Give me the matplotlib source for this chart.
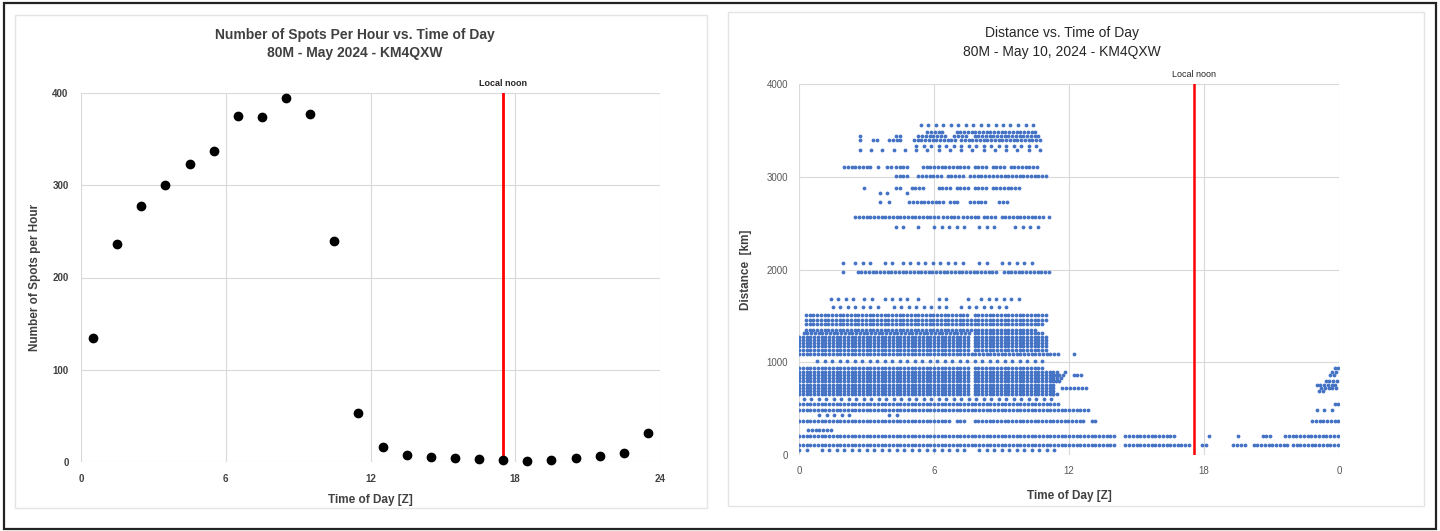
import numpy as np
import matplotlib.pyplot as plt
from matplotlib.patches import Rectangle

plt.rcParams['font.family'] = ['Liberation Sans', 'DejaVu Sans']

# spots per hour, May 2024 (hour centres)
hours = [0.5, 1.5, 2.5, 3.5, 4.5, 5.5, 6.5, 7.5, 8.5, 9.5, 10.5, 11.5,
         12.5, 13.5, 14.5, 15.5, 16.5, 17.5, 18.5, 19.5, 20.5, 21.5, 22.5, 23.5]
spots = [134, 236, 277, 300, 323, 337, 375, 374, 395, 377, 240, 53,
         16, 8, 5, 4, 3, 2, 1, 2, 4, 7, 10, 31]

noon_left = 17.5
noon_right = 17.55

# distance bands for May 10: km, list of (first, last) spot hours, spot interval in minutes
dense_main = [(0, 7.65), (7.8, 11.3)]
dense_high = [(0, 7.65), (7.8, 11.0)]
band_km = [50, 110, 200, 270, 370, 430, 480, 550, 600,
           655, 690, 725, 760, 795, 830, 865, 900, 935,
           1010, 1090, 1135, 1170, 1205, 1240, 1275, 1310,
           1350, 1410, 1460, 1510, 1600, 1680,
           1970, 2075, 2455, 2562, 2724, 2820, 2880, 3010, 3110,
           3290, 3330, 3400, 3440, 3480, 3560]
band_spans = [
    [(0, 0.4), (1.0, 7.5), (8.0, 11.4)],
    [(0, 14.1), (14.5, 17.4), (17.9, 18.1), (19.3, 19.9), (20.2, 21.8), (21.95, 24)],
    [(0, 14.1), (14.5, 16.7), (18.2, 18.2), (19.5, 19.5), (20.6, 21.0), (21.6, 24)],
    [(0.4, 1.4)],
    [(0, 6.8), (7.0, 7.4), (7.8, 12.7), (13.0, 13.3), (22.8, 24)],
    [(0.9, 2.3), (4.0, 4.4)],
    [(0, 12.9), (23.0, 23.0), (23.35, 23.35), (23.7, 23.7)],
    [(0, 11.5), (23.8, 24)],
    [(0.2, 11.2)],
    dense_main + [(11.3, 11.5)],
    dense_main + [(23.1, 23.3)],
    dense_main + [(11.7, 12.2), (12.4, 12.8), (23.2, 23.9)],
    dense_main + [(23.0, 23.9)],
    dense_main + [(11.4, 11.6), (23.4, 23.9)],
    dense_main + [(11.3, 11.7)],
    dense_main + [(11.4, 11.8), (12.2, 12.6), (23.6, 23.9)],
    [(0, 7.65), (7.8, 11.5), (11.8, 11.8), (23.7, 24)],
    [(0, 7.6), (7.8, 10.8), (23.8, 24)],
    [(0.8, 11.0)],
    [(0, 11.6), (12.2, 12.2)],
    dense_high,
    dense_high,
    dense_high,
    dense_high,
    dense_high,
    [(0.2, 7.6), (7.8, 10.9)],
    [(0.3, 10.5)],
    [(0.3, 10.8)],
    [(0.3, 11.0)],
    [(0.3, 7.6), (7.8, 11.1)],
    [(1.5, 3.6), (4.2, 6.6), (7.2, 9.5)],
    [(1.4, 2.4), (2.9, 3.4), (3.8, 4.9), (5.3, 5.6), (6.2, 6.6), (7.5, 7.7), (8.1, 9.8)],
    [(1.95, 2.0), (2.6, 8.9), (9.1, 11.1)],
    [(1.95, 2.0), (2.5, 3.4), (3.8, 4.2), (4.6, 7.4), (8.0, 8.5), (9.0, 10.6)],
    [(4.3, 4.8), (5.3, 5.3), (6.0, 7.6), (8.0, 8.8), (9.6, 10.6)],
    [(2.5, 6.2), (6.4, 7.1), (7.3, 8.0), (8.2, 8.8), (9.0, 10.9), (11.1, 11.1)],
    [(3.6, 3.6), (4.0, 4.0), (4.9, 6.4), (6.7, 7.1), (7.6, 8.4), (8.9, 9.3)],
    [(3.6, 3.6), (3.9, 3.9), (4.8, 5.0)],
    [(2.9, 2.9), (4.3, 4.6), (5.0, 5.6), (6.2, 6.8), (7.0, 7.6), (7.8, 8.4), (8.6, 9.9)],
    [(4.3, 4.8), (5.3, 6.3), (6.6, 7.4), (7.6, 8.6), (8.8, 11.1)],
    [(2.0, 3.2), (3.5, 3.6), (3.9, 4.1), (4.3, 4.9), (5.5, 7.5), (7.8, 8.3), (8.6, 9.2), (9.4, 10.6)],
    [(2.7, 10.7)],
    [(5.2, 7.0), (7.2, 10.7)],
    [(2.7, 2.8), (3.3, 3.6), (4.0, 4.6), (5.1, 7.0), (7.2, 10.7)],
    [(2.7, 2.8), (4.3, 4.5), (5.3, 6.6), (6.9, 7.5), (7.8, 10.7)],
    [(5.7, 6.5), (7.0, 10.6)],
    [(5.4, 10.6)],
]
band_step_min = [20, 10, 10, 10, 10, 20, 10, 10, 20,
                 10, 10, 10, 10, 10, 10, 10, 10, 10,
                 20, 10, 10, 10, 10, 10, 10, 10,
                 10, 10, 10, 10, 20, 20,
                 10, 20, 20, 10, 10, 20, 10, 10, 10,
                 30, 20, 10, 10, 10, 20]

# one point per spot
dist_t = []
dist_km = []
for km, spans, step in zip(band_km, band_spans, band_step_min):
    for s, e in spans:
        t = np.arange(s, e + 1e-6, step / 60.0)
        dist_t.extend(t)
        dist_km.extend([km] * len(t))

fig = plt.figure(figsize=(14.4, 5.31), dpi=100)

# frames
fig.patches.append(Rectangle((0.0025, 0.004), 0.995, 0.991, transform=fig.transFigure,
                             fill=False, edgecolor='#222222', linewidth=1.6))
fig.patches.append(Rectangle((15 / 1440, 1 - 508 / 531), 692 / 1440, 493 / 531,
                             transform=fig.transFigure, fill=False,
                             edgecolor='#e4e4e4', linewidth=1.0))
fig.patches.append(Rectangle((728 / 1440, 1 - 506 / 531), 696 / 1440, 494 / 531,
                             transform=fig.transFigure, fill=False,
                             edgecolor='#e4e4e4', linewidth=1.0))

grid_kw = dict(color='#d9d9d9', linewidth=0.8)

# left: spots per hour
ax1 = fig.add_axes([81 / 1440, 1 - 462 / 531, 579 / 1440, 369 / 531])
ax1.set_xlim(0, 24)
ax1.set_ylim(0, 400)
ax1.set_xticks([0, 6, 12, 18, 24])
ax1.set_yticks([0, 100, 200, 300, 400])
ax1.grid(True, **grid_kw)
ax1.set_axisbelow(True)
for sp in ax1.spines.values():
    sp.set_visible(False)
ax1.tick_params(length=0, labelsize=7, labelcolor='#404040', pad=9)
for lab in ax1.get_xticklabels() + ax1.get_yticklabels():
    lab.set_fontweight('bold')
ax1.plot(hours, spots, 'o', color='black', markersize=6.0, clip_on=False, zorder=3)
ax1.axvline(noon_left, color='#ff0000', linewidth=2.0, zorder=2)
ax1.text(noon_left, 405, 'Local noon', ha='center', va='bottom', fontsize=6.5,
         fontweight='bold', color='#262626')
ax1.set_xlabel('Time of Day [Z]', fontsize=8.5, fontweight='bold', color='#404040', labelpad=7)
ax1.set_ylabel('Number of Spots per Hour', fontsize=8.5, fontweight='bold',
               color='#404040', labelpad=8)
fig.text(355 / 1440, 1 - 35 / 531, 'Number of Spots Per Hour vs. Time of Day',
         ha='center', va='center', fontsize=10, fontweight='bold', color='#404040')
fig.text(355 / 1440, 1 - 53 / 531, '80M - May 2024 - KM4QXW',
         ha='center', va='center', fontsize=10, fontweight='bold', color='#404040')

# right: distance per spot
ax2 = fig.add_axes([799 / 1440, 1 - 455 / 531, 540 / 1440, 371 / 531])
ax2.set_xlim(0, 24)
ax2.set_ylim(0, 4000)
ax2.set_xticks([0, 6, 12, 18, 24])
ax2.set_xticklabels(['0', '6', '12', '18', '0'])
ax2.set_yticks([0, 1000, 2000, 3000, 4000])
ax2.grid(True, **grid_kw)
ax2.set_axisbelow(True)
for sp in ax2.spines.values():
    sp.set_visible(False)
ax2.scatter(dist_t, dist_km, s=7.5, marker='o', color='#4472c4', linewidths=0, zorder=3)
ax2.tick_params(length=0, labelsize=7, labelcolor='#595959', pad=8)
ax2.axvline(noon_right, color='#ff0000', linewidth=1.8, zorder=2)
ax2.text(noon_right, 4050, 'Local noon', ha='center', va='bottom', fontsize=6.5,
         color='#262626')
ax2.set_xlabel('Time of Day [Z]', fontsize=8.5, fontweight='bold', color='#404040', labelpad=10)
ax2.set_ylabel('Distance  [km]', fontsize=8.5, fontweight='bold', color='#404040', labelpad=10)
fig.text(1062 / 1440, 1 - 33 / 531, 'Distance vs. Time of Day',
         ha='center', va='center', fontsize=10, color='#262626')
fig.text(1062 / 1440, 1 - 52 / 531, '80M - May 10, 2024 - KM4QXW',
         ha='center', va='center', fontsize=10, color='#262626')

fig.savefig('out.png', dpi=100)
